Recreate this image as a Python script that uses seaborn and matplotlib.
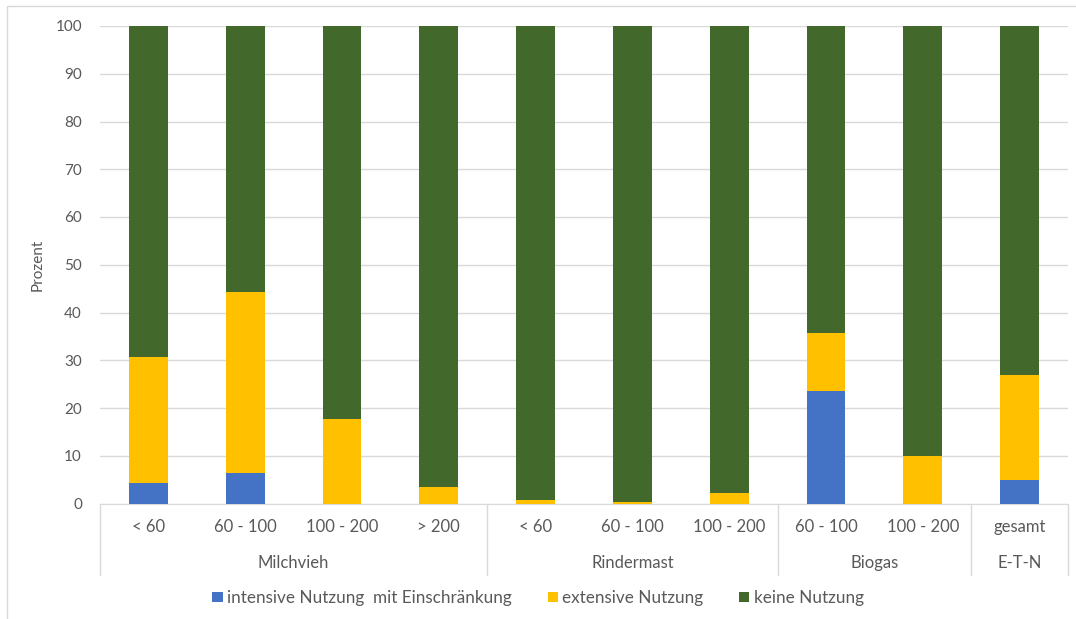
import numpy as np
import pandas as pd
import matplotlib
matplotlib.use("Agg")
import matplotlib.pyplot as plt
from matplotlib.lines import Line2D
from matplotlib.patches import Patch, Rectangle
import seaborn as sns

# data (Prozent)
gruppen = ["Milchvieh", "Milchvieh", "Milchvieh", "Milchvieh",
           "Rindermast", "Rindermast", "Rindermast",
           "Biogas", "Biogas", "E-T-N"]
klassen = ["< 60", "60 - 100", "100 - 200", "> 200",
           "< 60", "60 - 100", "100 - 200",
           "60 - 100", "100 - 200", "gesamt"]
intensiv = [4.3, 6.3, 0.0, 0.0, 0.0, 0.0, 0.0, 23.5, 0.0, 4.9]
extensiv = [26.4, 38.0, 17.7, 3.5, 0.8, 0.3, 2.2, 12.2, 10.0, 22.0]
keine = [69.2, 55.7, 82.3, 96.5, 99.2, 99.7, 97.8, 64.3, 90.0, 73.1]
serien = ["intensive Nutzung  mit Einschränkung", "extensive Nutzung", "keine Nutzung"]
farben = ["#4472C4", "#FFC000", "#43682B"]

sns.set_style("white")
plt.rcParams["font.family"] = ["Lato", "DejaVu Sans"]

kat = [f"{g}|{k}" for g, k in zip(gruppen, klassen)]
df = pd.DataFrame({"kat": kat,
                   "s1": intensiv,
                   "s2": np.array(intensiv) + np.array(extensiv),
                   "s3": np.array(intensiv) + np.array(extensiv) + np.array(keine)})

fig = plt.figure(figsize=(10.76, 6.19), dpi=100)
W, H = 1076, 619
ax = fig.add_axes([100 / W, 1 - 503.5 / H, 968 / W, 477.5 / H])

# stacked bars: draw cumulative totals back to front
for col, c in zip(["s3", "s2", "s1"], farben[::-1]):
    sns.barplot(data=df, x="kat", y=col, color=c, width=0.4, ax=ax,
                saturation=1, edgecolor="none", linewidth=0, zorder=3)

ax.set_ylim(0, 100)
ax.set_xlim(-0.5, len(kat) - 0.5)
ax.set_yticks(range(0, 101, 10))
ax.tick_params(axis="y", length=0, labelsize=11, labelcolor="#595959", pad=13)
ax.set_xticks([])
ax.set_xlabel("")
ax.set_ylabel("Prozent", fontsize=11, color="#595959", labelpad=8)
ax.grid(axis="y", color="#d9d9d9", linewidth=1, zorder=0)
for s in ["top", "right", "left"]:
    ax.spines[s].set_visible(False)
ax.spines["bottom"].set_color("#d9d9d9")

# category labels below axis
trans = ax.get_xaxis_transform()
def ypix(p):
    return -(p - 503.5) / 477.5

for i, k in enumerate(klassen):
    ax.text(i, ypix(527), k, ha="center", va="center", fontsize=12,
            color="#595959", transform=trans, clip_on=False)

grenzen = [-0.5]
for i in range(1, len(gruppen)):
    if gruppen[i] != gruppen[i - 1]:
        grenzen.append(i - 0.5)
grenzen.append(len(gruppen) - 0.5)
for b in grenzen:
    ax.add_line(Line2D([b, b], [0, ypix(575)], color="#d9d9d9", lw=1,
                       transform=trans, clip_on=False))
for a, b in zip(grenzen[:-1], grenzen[1:]):
    name = gruppen[int(a + 0.5)]
    ax.text((a + b) / 2, ypix(563), name, ha="center", va="center",
            fontsize=12, color="#595959", transform=trans, clip_on=False)

handles = [Patch(facecolor=c, edgecolor="none") for c in farben]
fig.legend(handles, serien, loc="center", bbox_to_anchor=(0.5, 1 - 598 / H),
           ncol=3, frameon=False, fontsize=12.3, handlelength=0.6,
           handleheight=0.6, handletextpad=0.25, columnspacing=2.1,
           labelcolor="#595959")

fig.patches.append(Rectangle((7 / W, -0.1), 1.2, 1 - 6 / H + 0.1,
                             transform=fig.transFigure, fill=False,
                             edgecolor="#d9d9d9", lw=1))

fig.savefig("out.png", dpi=100)
plt.close()
